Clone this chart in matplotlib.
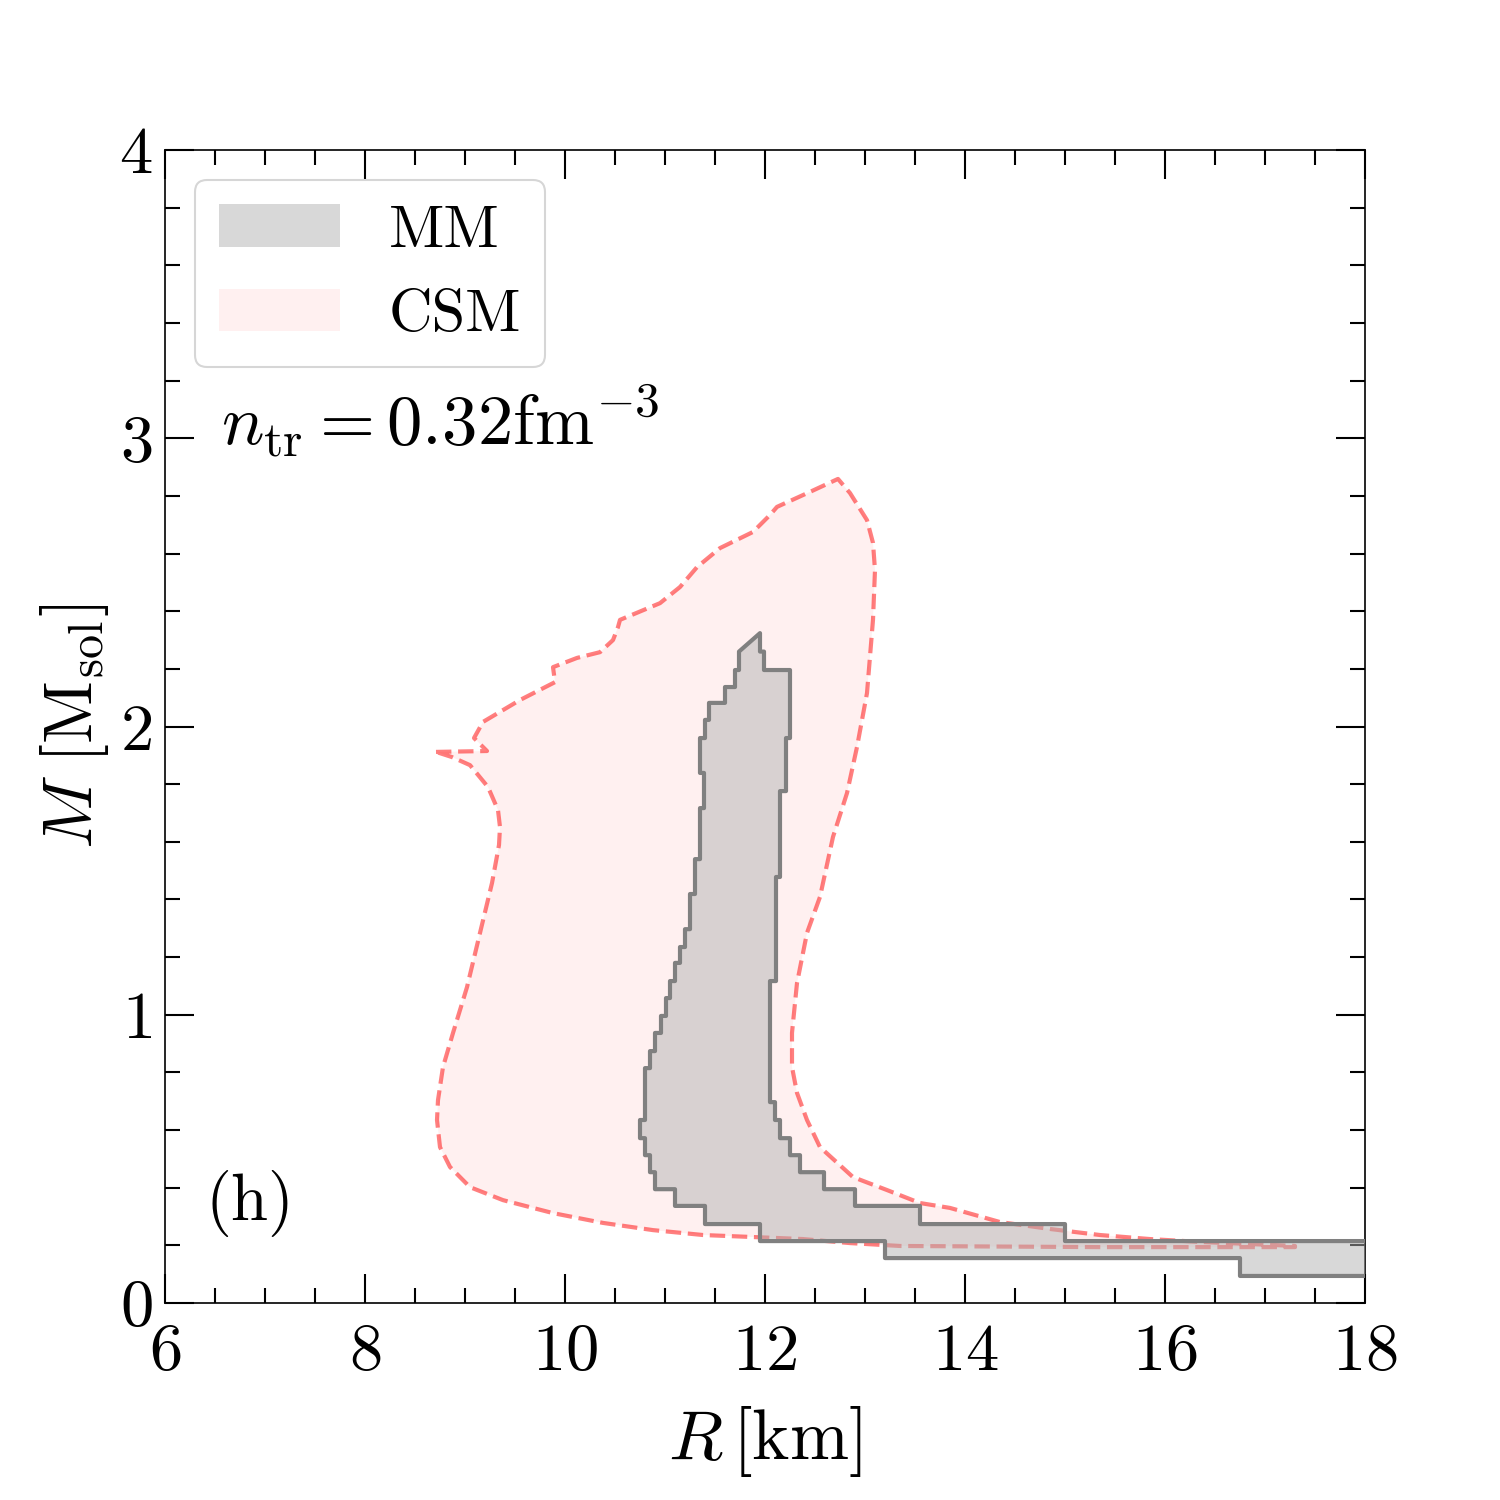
import matplotlib
matplotlib.use("Agg")
import matplotlib.pyplot as plt
from matplotlib.patches import Patch
from matplotlib.ticker import MultipleLocator

plt.rcParams["font.family"] = "serif"
plt.rcParams["font.serif"] = ["cmr10"]
plt.rcParams["mathtext.fontset"] = "cm"
plt.rcParams["axes.formatter.use_mathtext"] = True

# MM band: mass bin edges and R range in each bin (stair contour)
mm_edges = [0.094, 0.156, 0.215, 0.274, 0.337, 0.395, 0.454, 0.513, 0.572, 0.635,
            0.697, 0.756, 0.815, 0.874, 0.937, 0.996, 1.058, 1.117, 1.180, 1.235,
            1.297, 1.358, 1.419, 1.478, 1.540, 1.600, 1.657, 1.717, 1.776, 1.839,
            1.900, 1.960, 2.023, 2.082, 2.137, 2.196, 2.260]
mm_rleft = [16.75, 13.20, 11.95, 11.40, 11.10, 10.90, 10.85, 10.80, 10.75, 10.80,
            10.80, 10.80, 10.85, 10.90, 10.96, 11.01, 11.05, 11.10, 11.15, 11.20,
            11.25, 11.25, 11.30, 11.30, 11.35, 11.35, 11.35, 11.39, 11.39, 11.35,
            11.35, 11.40, 11.44, 11.60, 11.70, 11.74]
mm_rright = [18.5, 18.5, 15.00, 13.55, 12.90, 12.59, 12.35, 12.25, 12.15, 12.10,
             12.05, 12.05, 12.05, 12.05, 12.05, 12.05, 12.05, 12.11, 12.11, 12.11,
             12.11, 12.11, 12.11, 12.15, 12.15, 12.15, 12.15, 12.15, 12.21, 12.21,
             12.21, 12.25, 12.25, 12.25, 12.25, 11.99]
mm_peak_r = 11.95
mm_peak_m = 2.324

# CSM contour (R, M) going clockwise from the cusp
csm_r = [8.71, 9.22, 9.09, 9.18, 9.55, 9.90, 9.88, 10.12, 10.35, 10.48, 10.53, 10.55,
         10.95, 11.15, 11.32, 11.55, 11.88, 12.05, 12.12, 12.45, 12.73, 12.85, 13.02,
         13.08, 13.10, 13.08, 13.02, 12.92, 12.82, 12.68, 12.55, 12.42, 12.32, 12.27,
         12.27, 12.32, 12.42, 12.55, 12.88, 13.22, 13.55, 13.85, 14.35, 14.85, 15.35,
         15.85, 16.35, 16.85, 17.30, 17.30, 15.35, 13.35, 12.85, 12.38, 11.88, 11.38,
         10.88, 10.38, 9.88, 9.38, 9.05, 8.85, 8.75, 8.72, 8.73, 8.78, 8.88, 9.02,
         9.15, 9.27, 9.34, 9.35, 9.33, 9.23, 9.05, 8.87, 8.71]
csm_m = [1.912, 1.915, 1.960, 2.016, 2.092, 2.154, 2.206, 2.238, 2.258, 2.300, 2.345, 2.370,
         2.428, 2.484, 2.553, 2.619, 2.675, 2.734, 2.762, 2.814, 2.859, 2.810, 2.716,
         2.637, 2.543, 2.370, 2.116, 1.929, 1.769, 1.617, 1.409, 1.284, 1.110, 0.937,
         0.819, 0.729, 0.635, 0.541, 0.437, 0.392, 0.347, 0.330, 0.281, 0.257, 0.236,
         0.222, 0.212, 0.205, 0.198, 0.194, 0.194, 0.198, 0.208, 0.222, 0.229, 0.236,
         0.253, 0.278, 0.312, 0.357, 0.402, 0.472, 0.541, 0.635, 0.704, 0.819, 0.937, 1.096,
         1.284, 1.457, 1.589, 1.651, 1.710, 1.790, 1.866, 1.894, 1.912]

# build the stair outline of MM
mm_r, mm_m = [], []
for i in range(len(mm_rright)):
    mm_r += [mm_rright[i], mm_rright[i]]
    mm_m += [mm_edges[i], mm_edges[i + 1]]
mm_r += [mm_peak_r, mm_peak_r]
mm_m += [mm_edges[-1], mm_peak_m]
for i in reversed(range(len(mm_rleft))):
    mm_r += [mm_rleft[i], mm_rleft[i]]
    mm_m += [mm_edges[i + 1], mm_edges[i]]
mm_r.append(mm_r[0])
mm_m.append(mm_m[0])

fig = plt.figure(figsize=(10, 10), dpi=150)
ax = fig.add_axes([0.11, 0.1313, 0.8, 0.7687])

ax.fill(csm_r, csm_m, color="red", alpha=0.06, lw=0, zorder=1)
ax.plot(csm_r, csm_m, color="red", alpha=0.5, lw=2, ls="--", zorder=2)
ax.fill(mm_r, mm_m, color="#b3b3b3", alpha=0.5, lw=0, zorder=3)
ax.plot(mm_r, mm_m, color="gray", lw=2, zorder=4)

ax.set_xlim(6, 18)
ax.set_ylim(0, 4)
ax.xaxis.set_major_locator(MultipleLocator(2))
ax.xaxis.set_minor_locator(MultipleLocator(0.5))
ax.yaxis.set_major_locator(MultipleLocator(1))
ax.yaxis.set_minor_locator(MultipleLocator(0.2))
ax.tick_params(which="both", direction="in", top=True, right=True, labelsize=32)
ax.tick_params(which="major", length=14, width=1)
ax.tick_params(which="minor", length=7, width=1)
ax.tick_params(axis="x", pad=10)
ax.tick_params(axis="y", pad=6)

ax.set_xlabel(r"$R\,[\mathrm{km}]$", fontsize=34, labelpad=10)
ax.set_ylabel(r"$M\ [\mathrm{M_{sol}}]$", fontsize=33, labelpad=4)

handles = [Patch(facecolor="#b3b3b3", alpha=0.5, lw=0, label="MM"),
           Patch(facecolor="red", alpha=0.06, lw=0, label="CSM")]
ax.legend(handles=handles, loc="upper left", fontsize=29)

ax.text(0.047, 0.745, r"$n_{\rm tr}=0.32{\rm fm}^{-3}$", transform=ax.transAxes,
        fontsize=34, ha="left", va="baseline")
ax.text(0.034, 0.072, "(h)", transform=ax.transAxes, fontsize=32, ha="left", va="baseline")

fig.savefig("out.png", dpi=150)
